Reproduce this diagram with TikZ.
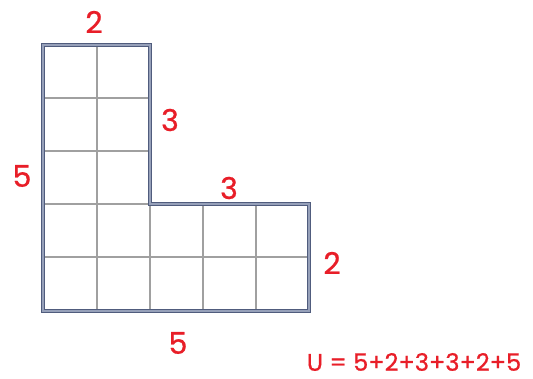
\documentclass[tikz,border=0pt]{standalone}
\usepackage{fontspec}
\setmainfont{Poppins}[FakeBold=0.8]
\definecolor{lab}{RGB}{232,30,40}
\definecolor{gridc}{RGB}{160,160,160}
\definecolor{bordo}{RGB}{80,92,125}
\definecolor{bordi}{RGB}{150,160,185}
\begin{document}
\begin{tikzpicture}[x=1pt,y=-1pt,
  lbl/.style={text=lab,font=\fontsize{30}{33}\selectfont,inner sep=0pt},
  gridline/.style={draw=gridc,line width=1.5pt},
  outer/.style={draw=bordo,line width=4.6pt,line join=miter},
  inner/.style={draw=bordi,line width=1.2pt,line join=miter}]
\useasboundingbox (0,0) rectangle (533,379);
% grid lines
\draw[gridline] (97,45) -- (97,311);
\draw[gridline] (150,204) -- (150,311);
\draw[gridline] (203,204) -- (203,311);
\draw[gridline] (256,204) -- (256,311);
\draw[gridline] (43,98) -- (150,98);
\draw[gridline] (43,151) -- (150,151);
\draw[gridline] (43,204) -- (150,204);
\draw[gridline] (43,257) -- (309,257);
% border
\draw[outer] (43,45) -- (150,45) -- (150,204) -- (309,204) -- (309,311) -- (43,311) -- cycle;
\draw[inner] (43,45) -- (150,45) -- (150,204) -- (309,204) -- (309,311) -- (43,311) -- cycle;
% labels
\node[lbl] (top) at (94,22) {2};
\node[lbl] (upr) at (170,120) {3};
\node[lbl] (left) at (22,176) {5};
\node[lbl] (mid) at (229,188) {3};
\node[lbl] (right) at (332,263) {2};
\node[lbl] (bot) at (178,343) {5};
\node[lbl,font=\fontsize{24}{27}\selectfont] (form) at (414,362) {U = 5+2+3+3+2+5};
\end{tikzpicture}
\end{document}
